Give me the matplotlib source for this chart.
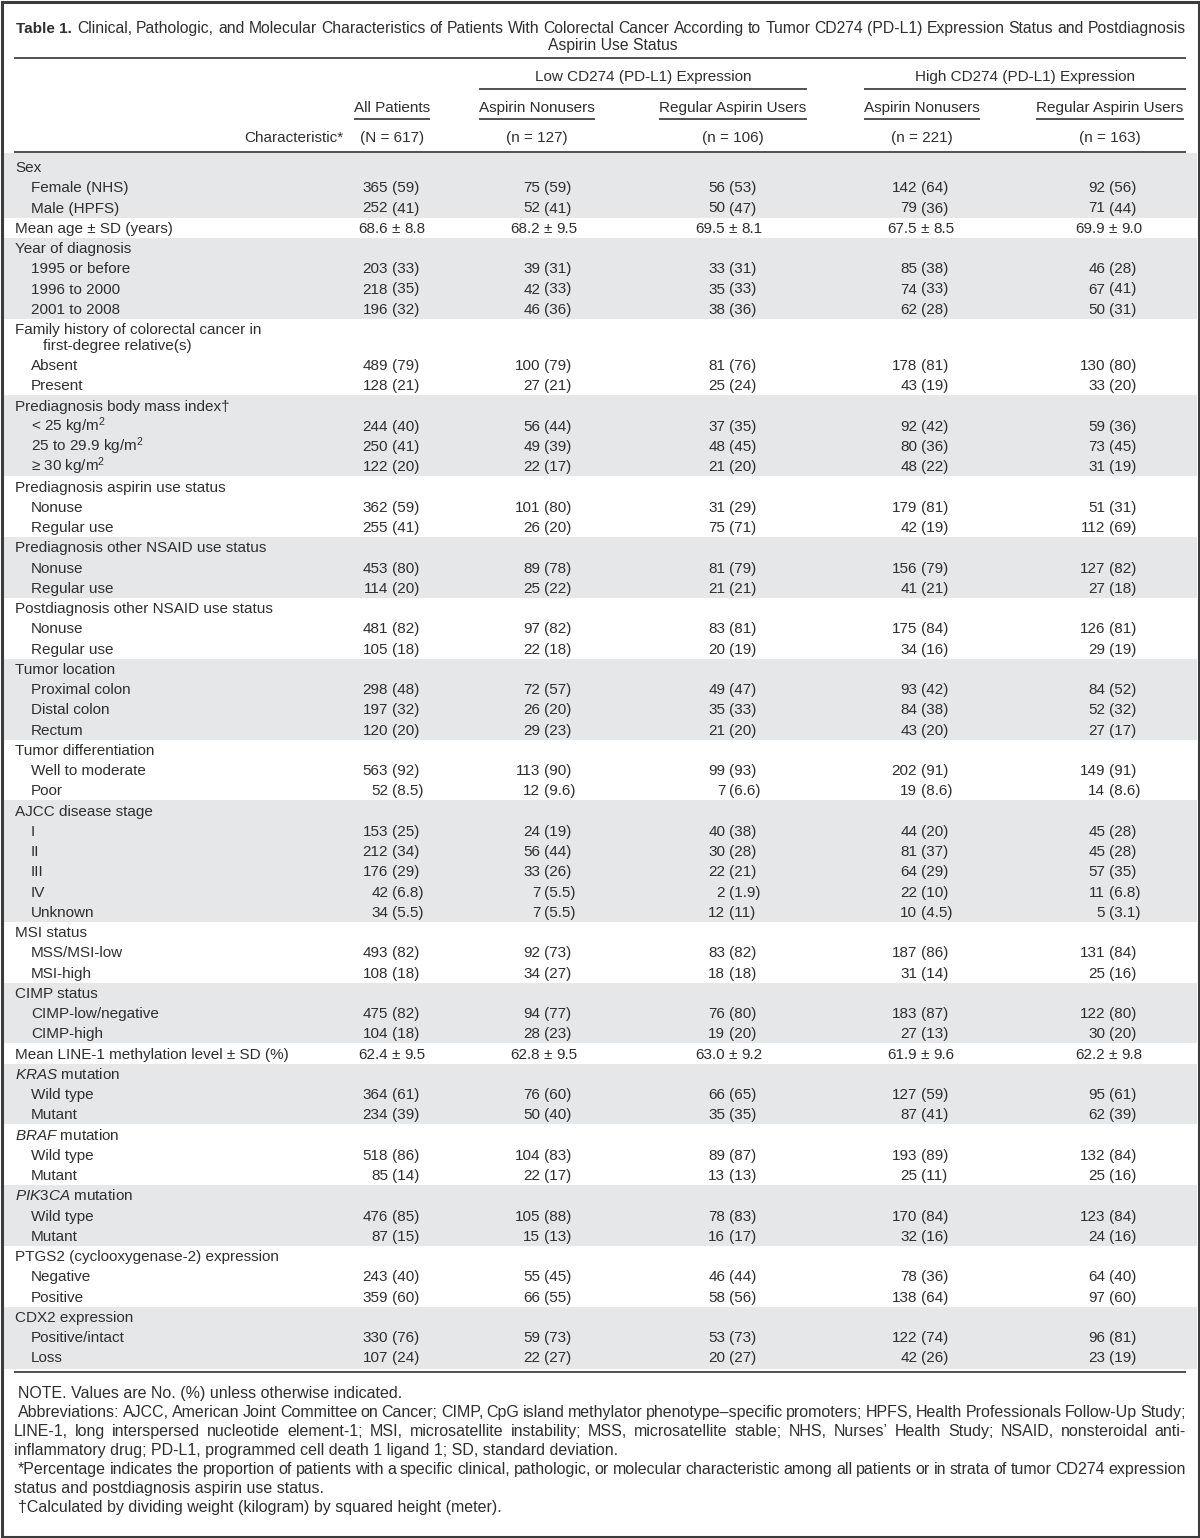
import matplotlib
matplotlib.use('Agg')
import matplotlib.pyplot as plt
from matplotlib.patches import Rectangle

plt.rcParams['font.family'] = ['Liberation Sans', 'DejaVu Sans']
plt.rcParams['mathtext.fontset'] = 'custom'
plt.rcParams['mathtext.rm'] = 'Liberation Sans'
plt.rcParams['mathtext.it'] = 'Liberation Sans:italic'

# ---- table content ----
title_bold = 'Table 1.'
title_line1 = ('Clinical, Pathologic, and Molecular Characteristics of Patients With Colorectal '
               'Cancer According to Tumor CD274 (PD-L1) Expression Status and Postdiagnosis')
title_line2 = 'Aspirin Use Status'

group_headers = ['Low CD274 (PD-L1) Expression', 'High CD274 (PD-L1) Expression']
column_names = ['All Patients', 'Aspirin Nonusers', 'Regular Aspirin Users',
                'Aspirin Nonusers', 'Regular Aspirin Users']
column_counts = ['(N = 617)', '(n = 127)', '(n = 106)', '(n = 221)', '(n = 163)']
stub_header = 'Characteristic*'

row_labels = [
    'Sex', 'Female (NHS)', 'Male (HPFS)', 'Mean age \u00b1 SD (years)',
    'Year of diagnosis', '1995 or before', '1996 to 2000', '2001 to 2008',
    'Family history of colorectal cancer in', 'first-degree relative(s)', 'Absent', 'Present',
    'Prediagnosis body mass index\u2020', '< 25 kg/m$^2$', '25 to 29.9 kg/m$^2$', '\u2265 30 kg/m$^2$',
    'Prediagnosis aspirin use status', 'Nonuse', 'Regular use',
    'Prediagnosis other NSAID use status', 'Nonuse', 'Regular use',
    'Postdiagnosis other NSAID use status', 'Nonuse', 'Regular use',
    'Tumor location', 'Proximal colon', 'Distal colon', 'Rectum',
    'Tumor differentiation', 'Well to moderate', 'Poor',
    'AJCC disease stage', 'I', 'II', 'III', 'IV', 'Unknown',
    'MSI status', 'MSS/MSI-low', 'MSI-high',
    'CIMP status', 'CIMP-low/negative', 'CIMP-high',
    'Mean LINE-1 methylation level \u00b1 SD (%)',
    '$\\it{KRAS}$ mutation', 'Wild type', 'Mutant',
    '$\\it{BRAF}$ mutation', 'Wild type', 'Mutant',
    '$\\it{PIK3CA}$ mutation', 'Wild type', 'Mutant',
    'PTGS2 (cyclooxygenase-2) expression', 'Negative', 'Positive',
    'CDX2 expression', 'Positive/intact', 'Loss',
]
# 0 = characteristic, 1 = category, 2 = wrapped continuation
row_indent = [0, 1, 1, 0, 0, 1, 1, 1, 0, 2, 1, 1, 0, 1, 1, 1, 0, 1, 1, 0, 1, 1, 0, 1, 1,
              0, 1, 1, 1, 0, 1, 1, 0, 1, 1, 1, 1, 1, 0, 1, 1, 0, 1, 1, 0, 0, 1, 1, 0, 1, 1,
              0, 1, 1, 0, 1, 1, 0, 1, 1]

all_patients = ['', '365 (59)', '252 (41)', '68.6 \u00b1 8.8', '', '203 (33)', '218 (35)', '196 (32)',
                '', '', '489 (79)', '128 (21)', '', '244 (40)', '250 (41)', '122 (20)',
                '', '362 (59)', '255 (41)', '', '453 (80)', '114 (20)', '', '481 (82)', '105 (18)',
                '', '298 (48)', '197 (32)', '120 (20)', '', '563 (92)', '52 (8.5)',
                '', '153 (25)', '212 (34)', '176 (29)', '42 (6.8)', '34 (5.5)',
                '', '493 (82)', '108 (18)', '', '475 (82)', '104 (18)', '62.4 \u00b1 9.5',
                '', '364 (61)', '234 (39)', '', '518 (86)', '85 (14)', '', '476 (85)', '87 (15)',
                '', '243 (40)', '359 (60)', '', '330 (76)', '107 (24)']
low_nonusers = ['', '75 (59)', '52 (41)', '68.2 \u00b1 9.5', '', '39 (31)', '42 (33)', '46 (36)',
                '', '', '100 (79)', '27 (21)', '', '56 (44)', '49 (39)', '22 (17)',
                '', '101 (80)', '26 (20)', '', '89 (78)', '25 (22)', '', '97 (82)', '22 (18)',
                '', '72 (57)', '26 (20)', '29 (23)', '', '113 (90)', '12 (9.6)',
                '', '24 (19)', '56 (44)', '33 (26)', '7 (5.5)', '7 (5.5)',
                '', '92 (73)', '34 (27)', '', '94 (77)', '28 (23)', '62.8 \u00b1 9.5',
                '', '76 (60)', '50 (40)', '', '104 (83)', '22 (17)', '', '105 (88)', '15 (13)',
                '', '55 (45)', '66 (55)', '', '59 (73)', '22 (27)']
low_users = ['', '56 (53)', '50 (47)', '69.5 \u00b1 8.1', '', '33 (31)', '35 (33)', '38 (36)',
             '', '', '81 (76)', '25 (24)', '', '37 (35)', '48 (45)', '21 (20)',
             '', '31 (29)', '75 (71)', '', '81 (79)', '21 (21)', '', '83 (81)', '20 (19)',
             '', '49 (47)', '35 (33)', '21 (20)', '', '99 (93)', '7 (6.6)',
             '', '40 (38)', '30 (28)', '22 (21)', '2 (1.9)', '12 (11)',
             '', '83 (82)', '18 (18)', '', '76 (80)', '19 (20)', '63.0 \u00b1 9.2',
             '', '66 (65)', '35 (35)', '', '89 (87)', '13 (13)', '', '78 (83)', '16 (17)',
             '', '46 (44)', '58 (56)', '', '53 (73)', '20 (27)']
high_nonusers = ['', '142 (64)', '79 (36)', '67.5 \u00b1 8.5', '', '85 (38)', '74 (33)', '62 (28)',
                 '', '', '178 (81)', '43 (19)', '', '92 (42)', '80 (36)', '48 (22)',
                 '', '179 (81)', '42 (19)', '', '156 (79)', '41 (21)', '', '175 (84)', '34 (16)',
                 '', '93 (42)', '84 (38)', '43 (20)', '', '202 (91)', '19 (8.6)',
                 '', '44 (20)', '81 (37)', '64 (29)', '22 (10)', '10 (4.5)',
                 '', '187 (86)', '31 (14)', '', '183 (87)', '27 (13)', '61.9 \u00b1 9.6',
                 '', '127 (59)', '87 (41)', '', '193 (89)', '25 (11)', '', '170 (84)', '32 (16)',
                 '', '78 (36)', '138 (64)', '', '122 (74)', '42 (26)']
high_users = ['', '92 (56)', '71 (44)', '69.9 \u00b1 9.0', '', '46 (28)', '67 (41)', '50 (31)',
              '', '', '130 (80)', '33 (20)', '', '59 (36)', '73 (45)', '31 (19)',
              '', '51 (31)', '112 (69)', '', '127 (82)', '27 (18)', '', '126 (81)', '29 (19)',
              '', '84 (52)', '52 (32)', '27 (17)', '', '149 (91)', '14 (8.6)',
              '', '45 (28)', '45 (28)', '57 (35)', '11 (6.8)', '5 (3.1)',
              '', '131 (84)', '25 (16)', '', '122 (80)', '30 (20)', '62.2 \u00b1 9.8',
              '', '95 (61)', '62 (39)', '', '132 (84)', '25 (16)', '', '123 (84)', '24 (16)',
              '', '64 (40)', '97 (60)', '', '96 (81)', '23 (19)']
columns = [all_patients, low_nonusers, low_users, high_nonusers, high_users]

footnotes = [
    ('NOTE. Values are No. (%) unless otherwise indicated.', 'first-left'),
    ('Abbreviations: AJCC, American Joint Committee on Cancer; CIMP, CpG island methylator '
     'phenotype\u2013specific promoters; HPFS, Health Professionals Follow-Up Study;', 'first-just'),
    ('LINE-1, long interspersed nucleotide element-1; MSI, microsatellite instability; MSS, '
     'microsatellite stable; NHS, Nurses\u2019 Health Study; NSAID, nonsteroidal anti-', 'just'),
    ('inflammatory drug; PD-L1, programmed cell death 1 ligand 1; SD, standard deviation.', 'left'),
    ('*Percentage indicates the proportion of patients with a specific clinical, pathologic, or '
     'molecular characteristic among all patients or in strata of tumor CD274 expression', 'first-just'),
    ('status and postdiagnosis aspirin use status.', 'left'),
    ('\u2020Calculated by dividing weight (kilogram) by squared height (meter).', 'first-left'),
]

# ---- layout (pixel coordinates, y downwards) ----
W, H = 1200, 1538
FS = 11
TXT = '#2e2e2e'
SHADE = '#e6e7e8'
LEFT, RIGHT = 14, 1186
val_cx = [392, 544, 729, 921, 1109]
hdr_cx = [392, 537, 733, 922, 1110]

fig = plt.figure(figsize=(W / 100, H / 100), dpi=100)
ax = fig.add_axes([0, 0, 1, 1])
ax.set_xlim(0, W)
ax.set_ylim(H, 0)
ax.axis('off')
renderer = fig.canvas.get_renderer()


def put(x, y, s, ha='left', size=FS, **kw):
    return ax.text(x, y + 5, s, ha=ha, va='baseline', fontsize=size, color=TXT, **kw)


def width_of(s, size=FS, **kw):
    t = ax.text(0, 0, s, fontsize=size, **kw)
    w = t.get_window_extent(renderer).width
    t.remove()
    return w


def justify(s, x0, x1, y, size=FS, min_gap=2.4):
    words = s.split(' ')
    while True:
        ws = [width_of(w, size) for w in words]
        gap = (x1 - x0 - sum(ws)) / (len(words) - 1)
        if gap >= min_gap or size < 6:
            break
        size -= 0.1
    x = x0
    for w, wd in zip(words, ws):
        put(x, y, w, size=size)
        x += wd + gap


def hline(y, x0, x1, lw=1.1):
    ax.plot([x0, x1], [y, y], color='#222222', lw=lw, solid_capstyle='butt')


# title
put(LEFT + 2, 28, title_bold, fontweight='bold', size=11)
justify(title_line1, 77, RIGHT, 28, size=11.3, min_gap=3.0)
put(613, 45, title_line2, ha='center', size=11.3)
hline(57.5, LEFT, RIGHT)

# column headers
ext = []
for name, cnt, cx in zip(column_names, column_counts, hdr_cx):
    put(cx, 107, name, ha='center')
    put(cx, 137, cnt, ha='center')
    w = width_of(name)
    ext.append((cx - w / 2, cx + w / 2))
    hline(118.5, cx - w / 2, cx + w / 2)
for gi, name in enumerate(group_headers):
    x0, x1 = ext[1 + 2 * gi][0], ext[2 + 2 * gi][1]
    if gi == 1:
        x1 = RIGHT
    put((x0 + x1) / 2, 76, name, ha='center')
    hline(88.5, x0, x1)
put(294, 137, stub_header, ha='center')
hline(152, LEFT, RIGHT)

# row positions
step = 20.25
ys = []
y = 167
for i, lvl in enumerate(row_indent):
    if i > 0:
        if lvl == 2:
            y += step * 0.8
        elif row_indent[i - 1] == 2:
            y += step * 0.98
        else:
            y += step
    ys.append(y)

# shading by characteristic group
group_start = [i for i, lvl in enumerate(row_indent) if lvl == 0]
for k, s in enumerate(group_start):
    e = group_start[k + 1] - 1 if k + 1 < len(group_start) else len(row_indent) - 1
    top = 153 if s == 0 else (ys[s - 1] + ys[s]) / 2
    bot = (ys[e] + ys[e + 1]) / 2 if e + 1 < len(ys) else 1369
    if k % 2 == 0:
        ax.add_patch(Rectangle((3, top), W - 6, bot - top, facecolor=SHADE, edgecolor='none', zorder=0))

indent_x = [LEFT + 1, LEFT + 17, LEFT + 29]
for i, lab in enumerate(row_labels):
    put(indent_x[row_indent[i]], ys[i], lab)
    for col, cx in zip(columns, val_cx):
        v = col[i]
        if not v:
            continue
        if ' (' in v:
            num, pct = v.split(' (')
            put(cx - 3.8, ys[i], num, ha='right')
            put(cx, ys[i], '(' + pct, ha='left')
        else:
            left, right = v.split(' \u00b1 ')
            pm = cx + 4
            put(pm - 8.5, ys[i], left, ha='right')
            put(pm, ys[i], '\u00b1', ha='center')
            put(pm + 8.5, ys[i], right, ha='left')

hline(1372, LEFT, RIGHT)

# footnotes
fy = 1393
for text, mode in footnotes:
    x0 = LEFT + 4 if mode.startswith('first') else LEFT
    if mode.endswith('just'):
        justify(text, x0, RIGHT, fy, size=11.5)
    else:
        put(x0, fy, text, size=11.5)
    fy += 19

# outer frame
ax.add_patch(Rectangle((1.5, 1.5), W - 3, H - 3, facecolor='none', edgecolor='#3c3c3c', lw=2.2))

fig.savefig('out.png', dpi=100)
